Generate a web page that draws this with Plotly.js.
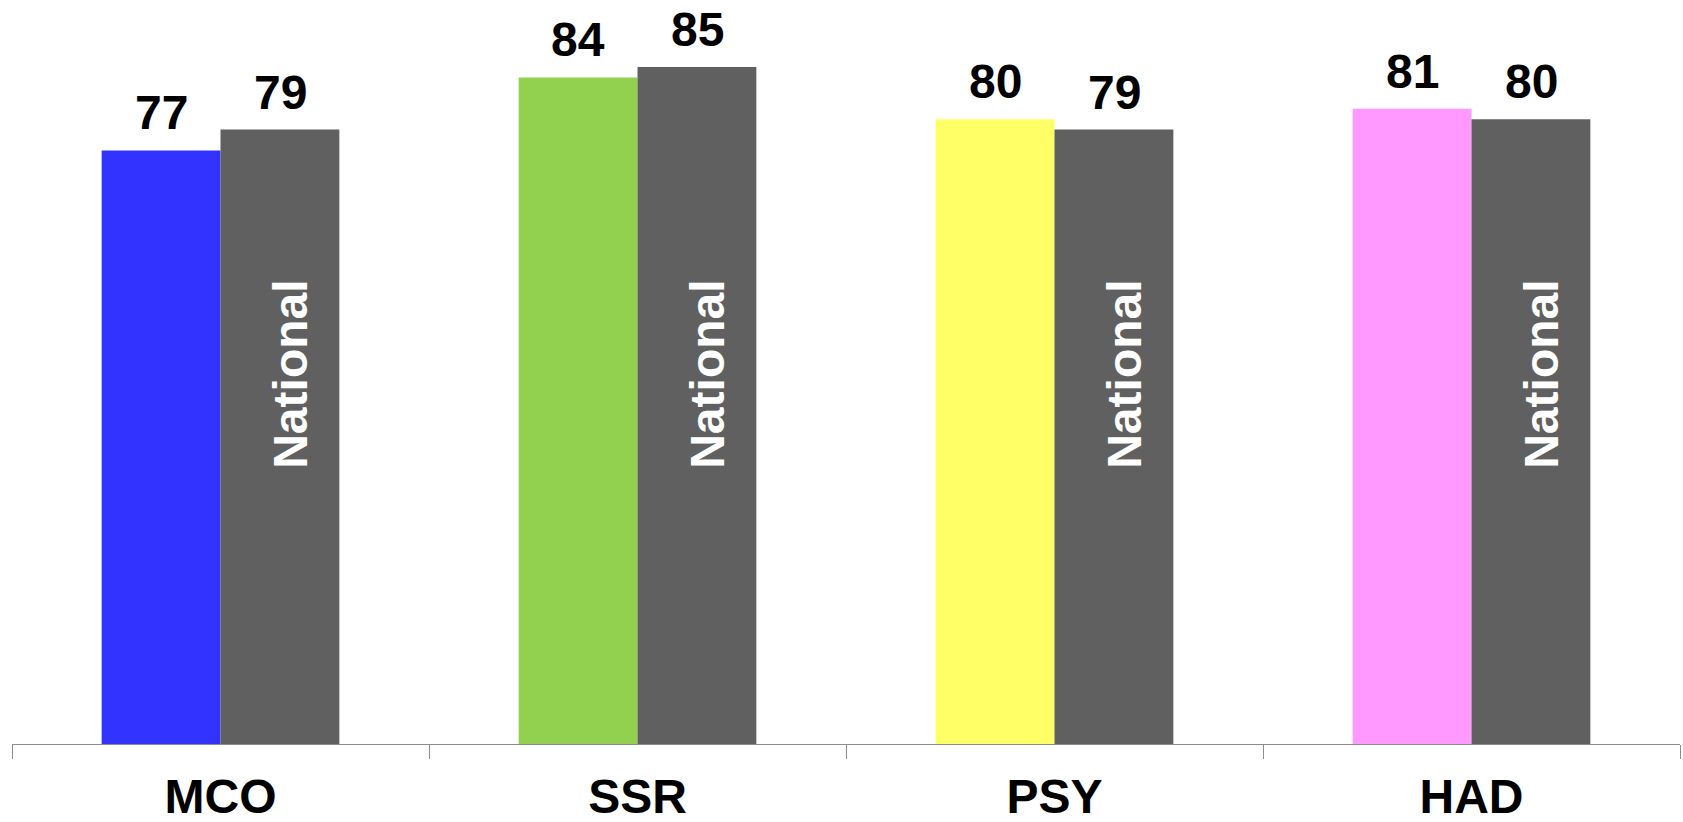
<!DOCTYPE html>
<html>
<head>
<meta charset="utf-8">
<script src="https://cdn.plot.ly/plotly-3.0.1.min.js"></script>
<style>
  html, body { margin: 0; padding: 0; background: #ffffff; }
  #chart { width: 1683px; height: 822px; }
</style>
</head>
<body>
<div id="chart"></div>
<script>
// Service scores versus the national figure
const categories = ['MCO', 'SSR', 'PSY', 'HAD'];
const serviceScores = [77, 84, 80, 81];
const nationalScores = [79, 85, 79, 80];
const nationalLabel = 'National';
const serviceColors = ['#3333FF', '#92D050', '#FFFF66', '#FF99FF'];
const nationalColor = '#606060';

const FONT = '"Liberation Sans", Arial, sans-serif';
const BIG = 48;
const HALF_BAR_PX = 59.5;   // half of one bar's width in pixels

const traces = [
  {
    type: 'bar',
    x: categories,
    y: serviceScores,
    marker: { color: serviceColors, line: { width: 0 } },
    hoverinfo: 'x+y'
  },
  {
    type: 'bar',
    x: categories,
    y: nationalScores,
    name: nationalLabel,
    marker: { color: nationalColor, line: { width: 0 } },
    hoverinfo: 'x+y'
  }
];

// Value labels above each bar
function valueLabels(values, shift) {
  return categories.map((c, i) => ({
    x: c, xref: 'x', y: values[i], yref: 'y',
    xshift: shift, yshift: 9,
    yanchor: 'bottom',
    text: '<b>' + values[i] + '</b>',
    showarrow: false,
    font: { family: FONT, size: BIG, color: '#000000' }
  }));
}

// Vertical "National" label inside each national bar
const nationalTags = categories.map(c => ({
  x: c, xref: 'x', y: 55.5, yref: 'y',
  xshift: 70,
  text: '<b>' + nationalLabel + '</b>',
  textangle: -90,
  showarrow: false,
  font: { family: FONT, size: BIG, color: '#ffffff' }
}));

const layout = {
  width: 1683,
  height: 822,
  margin: { l: 12, r: 3, t: 15, b: 78 },
  paper_bgcolor: '#ffffff',
  plot_bgcolor: '#ffffff',
  showlegend: false,
  barmode: 'group',
  bargap: 0.43,
  bargroupgap: 0,
  font: { family: FONT },
  xaxis: {
    type: 'category',
    showline: true,
    linecolor: '#8c8c8c',
    linewidth: 1,
    ticks: 'outside',
    tickson: 'boundaries',
    ticklen: 14,
    tickcolor: '#8c8c8c',
    tickwidth: 1,
    ticklabelstandoff: 10,
    showgrid: false,
    zeroline: false,
    tickfont: { family: FONT, size: BIG, color: '#000000', weight: 'bold' }
  },
  yaxis: {
    range: [20, 90],
    visible: false,
    showgrid: false,
    zeroline: false
  },
  annotations: valueLabels(serviceScores, -HALF_BAR_PX)
    .concat(valueLabels(nationalScores, HALF_BAR_PX))
    .concat(nationalTags)
};

Plotly.newPlot('chart', traces, layout, { displayModeBar: false, staticPlot: true });
</script>
</body>
</html>
